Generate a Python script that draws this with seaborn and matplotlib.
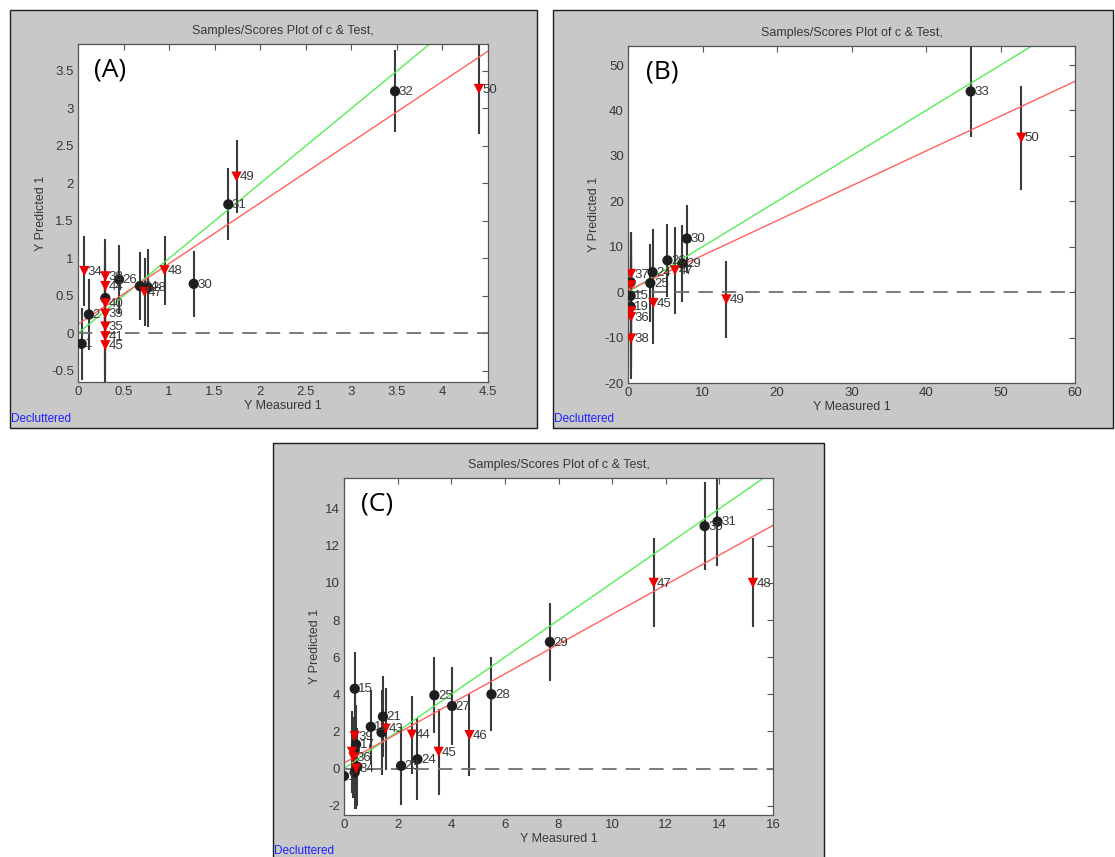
import numpy as np
import pandas as pd
import seaborn as sns
import matplotlib.pyplot as plt
from matplotlib.patches import Rectangle

# ---- data ----
# (A)
a_cal_x = [0.04, 0.12, 0.30, 0.45, 0.68, 0.77, 1.27, 1.65, 3.48]
a_cal_y = [-0.14, 0.25, 0.47, 0.72, 0.63, 0.61, 0.66, 1.72, 3.23]
a_cal_err = [0.48, 0.47, 0.50, 0.46, 0.45, 0.52, 0.44, 0.48, 0.55]
a_cal_lbl = ['1', '2', '', '26', '24', '28', '30', '31', '32']
a_test_x = [0.07, 0.30, 0.30, 0.30, 0.30, 0.30, 0.30, 0.30, 0.73, 0.95, 1.74, 4.40]
a_test_y = [0.83, 0.76, 0.63, 0.40, 0.26, 0.09, -0.04, -0.16, 0.55, 0.84, 2.09, 3.26]
a_test_err = [0.47, 0.50, 0.50, 0.50, 0.50, 0.50, 0.50, 0.50, 0.45, 0.46, 0.49, 0.60]
a_test_lbl = ['34', '38', '44', '40', '39', '35', '41', '45', '47', '48', '49', '50']
a_fit = (0.81, 0.12)   # slope, intercept of red line

# (B)
b_cal_x = [0.35, 0.35, 0.35, 3.3, 3.0, 5.3, 7.3, 7.9, 46.0]
b_cal_y = [2.2, -0.8, -3.2, 4.4, 2.0, 7.0, 6.3, 11.8, 44.2]
b_cal_err = [11.0, 12.0, 12.0, 9.5, 8.5, 8.0, 8.5, 7.5, 10.0]
b_cal_lbl = ['', '15', '19', '24', '25', '26', '29', '30', '33']
b_test_x = [0.4, 0.4, 0.4, 0.4, 0.4, 3.4, 6.3, 13.2, 52.8]
b_test_y = [4.0, 1.5, -4.2, -5.5, -10.2, -2.4, 4.8, -1.6, 34.0]
b_test_err = [9.0, 11.0, 12.0, 12.0, 9.0, 9.0, 9.5, 8.5, 11.5]
b_test_lbl = ['37', '', '', '36', '38', '45', '47', '49', '50']
b_fit = (0.767, 0.4)

# (C)
c_cal_x = [0.0, 0.40, 0.45, 0.40, 0.50, 0.40, 1.0, 1.4, 1.45, 2.13, 2.74,
           3.37, 4.03, 5.5, 7.68, 13.45, 13.93]
c_cal_y = [-0.4, 4.3, 1.3, 1.0, 0.1, -0.2, 2.25, 1.95, 2.8, 0.15, 0.5,
           3.95, 3.37, 4.0, 6.82, 13.06, 13.3]
c_cal_err = [1.9, 2.0, 2.1, 2.0, 2.1, 2.0, 2.0, 2.3, 2.2, 2.1, 2.2,
             2.05, 2.1, 2.0, 2.1, 2.35, 2.4]
c_cal_lbl = ['1', '15', '17', '', '', '', '11', '', '21', '23', '24',
             '25', '27', '28', '29', '30', '31']
c_test_x = [0.40, 0.30, 0.35, 0.45, 1.55, 2.53, 3.53, 4.68, 11.55, 15.25]
c_test_y = [1.75, 0.9, 0.6, 0.0, 2.15, 1.83, 0.9, 1.8, 10.0, 10.0]
c_test_err = [2.2, 2.2, 2.2, 2.2, 2.2, 2.1, 2.3, 2.2, 2.4, 2.4]
c_test_lbl = ['39', '', '36', '34', '43', '44', '45', '46', '47', '48']
c_fit = (0.80, 0.30)

W, H = 1115, 857
TXT = '#383838'

sns.set_style('white')
plt.rcParams['font.family'] = ['Liberation Sans', 'DejaVu Sans']


def make_df(cx, cy, ce, cl, tx, ty, te, tl):
    cal = pd.DataFrame({'x': cx, 'y': cy, 'err': ce, 'lbl': cl, 'set': 'cal'})
    test = pd.DataFrame({'x': tx, 'y': ty, 'err': te, 'lbl': tl, 'set': 'test'})
    return pd.concat([cal, test], ignore_index=True)


def px(l, t, r, b):
    return [l / W, 1 - b / H, (r - l) / W, (b - t) / H]


def draw_panel(fig, box, frame, df, fit, xlim, ylim, xticks, yticks, tag):
    # gray panel behind axes
    l, t, r, b = frame
    fig.patches.append(Rectangle((l / W, 1 - b / H), (r - l) / W, (b - t) / H,
                                 transform=fig.transFigure, facecolor='#c8c8c8',
                                 edgecolor='#1e1e1e', lw=1.0, zorder=-5))
    fig.text((l + 1) / W, 1 - (b - 3) / H, 'Decluttered', color='#2020ff',
             fontsize=8.5, va='bottom', ha='left')

    ax = fig.add_axes(px(*box))
    ax.set_zorder(1)
    ax.set_facecolor('white')
    # error bars
    ax.vlines(df['x'], df['y'] - df['err'], df['y'] + df['err'],
              color='#3a3a3a', lw=1.5, zorder=1)
    # reference lines
    xs = np.array(xlim, dtype=float)
    ax.plot(xs, xs, color='#55ee55', lw=1.0, zorder=2)
    ax.plot(xs, fit[1] + fit[0] * xs, color='#ff6060', lw=1.0, zorder=2)
    ax.axhline(0, color='#707070', lw=1.3, dashes=(8, 5), zorder=1.5)
    # points
    sns.scatterplot(data=df, x='x', y='y', hue='set', style='set',
                    palette={'cal': '#1e1e1e', 'test': '#ee0000'},
                    markers={'cal': 'o', 'test': 'v'}, s=55, linewidth=0,
                    legend=False, ax=ax, zorder=3)
    for _, row in df.iterrows():
        if row['lbl']:
            ax.annotate(row['lbl'], (row['x'], row['y']), xytext=(2.5, -0.5),
                        textcoords='offset points', va='center', ha='left',
                        fontsize=9.5, color=TXT, zorder=4)

    ax.set_xlim(xlim)
    ax.set_ylim(ylim)
    ax.set_xticks(xticks)
    ax.set_yticks(yticks)
    ax.set_xticklabels(['%g' % v for v in xticks])
    ax.set_yticklabels(['%g' % v for v in yticks])
    ax.tick_params(direction='in', top=True, right=True, length=4, width=0.8,
                   labelsize=9.5, colors='#555555', labelcolor=TXT, pad=3)
    for sp in ax.spines.values():
        sp.set_color('#555555')
        sp.set_linewidth(0.9)
    ax.set_xlabel('Y Measured 1', fontsize=9, color=TXT, labelpad=1)
    ax.set_ylabel('Y Predicted 1', fontsize=9, color=TXT, labelpad=3)
    ax.set_title('Samples/Scores Plot of c & Test,', fontsize=9, color=TXT, pad=7)
    ax.text(0.04, 0.96, tag, transform=ax.transAxes, fontsize=19,
            va='top', ha='left', color='black', family=['Open Sans', 'DejaVu Sans'])
    return ax


fig = plt.figure(figsize=(W / 100, H / 100), dpi=100)

df_a = make_df(a_cal_x, a_cal_y, a_cal_err, a_cal_lbl,
               a_test_x, a_test_y, a_test_err, a_test_lbl)
draw_panel(fig, (78, 44, 488, 382), (10, 10, 537, 428), df_a, a_fit,
           (0, 4.5), (-0.65, 3.86), np.arange(0, 4.51, 0.5),
           np.arange(-0.5, 3.51, 0.5), '(A)')

df_b = make_df(b_cal_x, b_cal_y, b_cal_err, b_cal_lbl,
               b_test_x, b_test_y, b_test_err, b_test_lbl)
draw_panel(fig, (628, 46, 1075, 383), (553, 10, 1113, 428), df_b, b_fit,
           (0, 60), (-20, 54.2), np.arange(0, 61, 10),
           np.arange(-20, 51, 10), '(B)')

df_c = make_df(c_cal_x, c_cal_y, c_cal_err, c_cal_lbl,
               c_test_x, c_test_y, c_test_err, c_test_lbl)
draw_panel(fig, (344, 478, 773, 815), (273, 443, 824, 860), df_c, c_fit,
           (0, 16), (-2.5, 15.65), np.arange(0, 17, 2),
           np.arange(-2, 15, 2), '(C)')

fig.savefig('out.png', dpi=100, facecolor='white')
